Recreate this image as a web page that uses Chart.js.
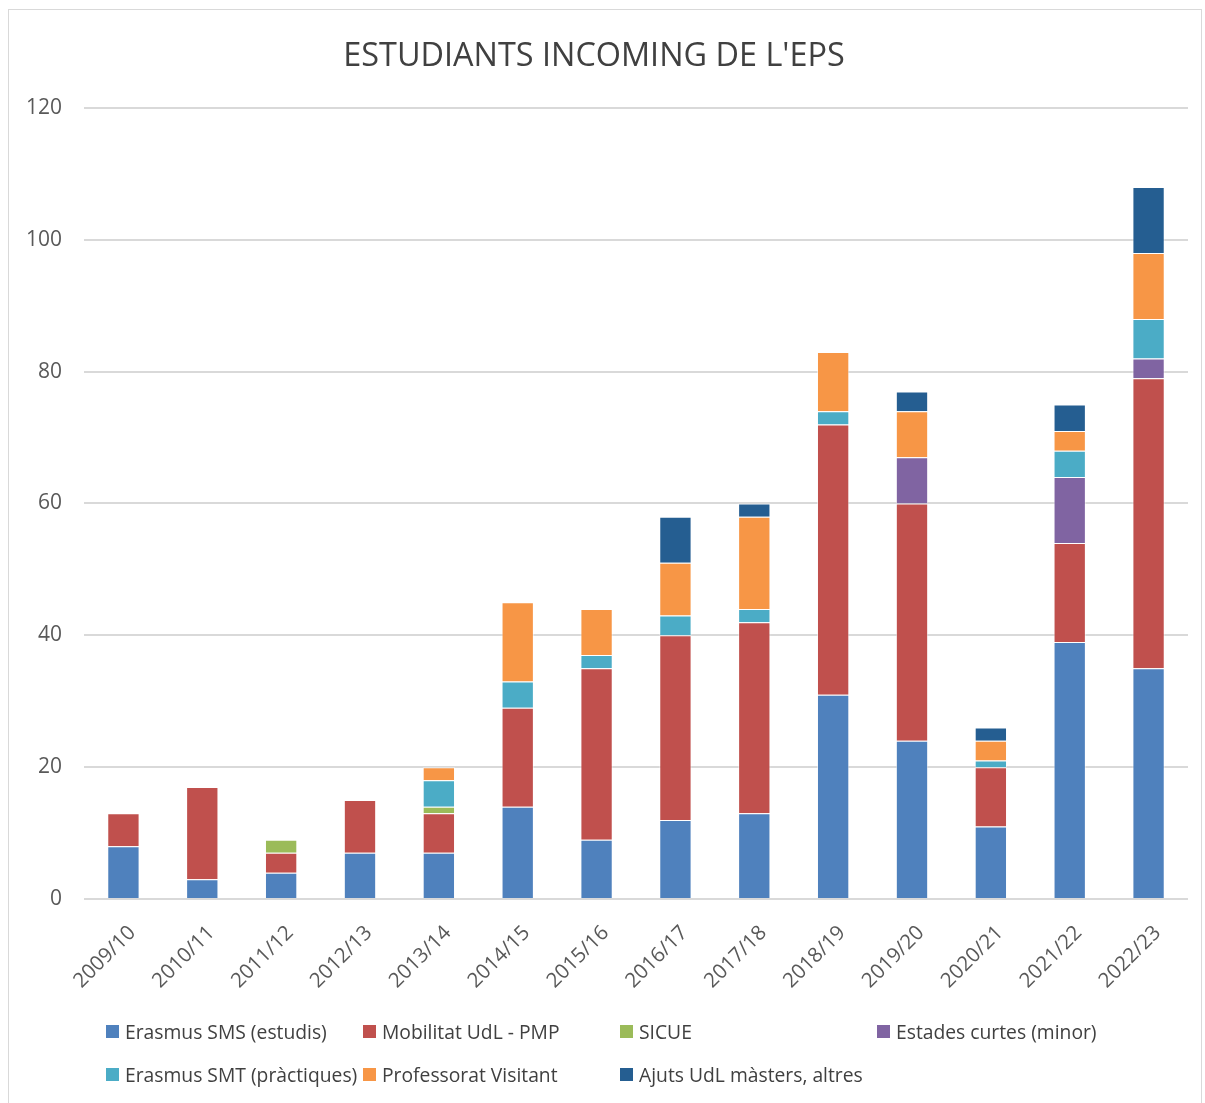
<!DOCTYPE html>
<html>
<head>
<meta charset="utf-8">
<script src="https://cdn.jsdelivr.net/npm/chart.js@4/dist/chart.umd.min.js"></script>
<style>
  html, body { margin: 0; padding: 0; background: #fff; }
  body { width: 1205px; height: 1103px; position: relative; overflow: hidden; font-family: "Open Sans", "Noto Sans", sans-serif; }
  #frame { position: absolute; left: 8px; top: 9px; width: 1194px; height: 1110px; border: 1px solid #d9d9d9; box-sizing: border-box; }
  #wrap { position: absolute; left: 0; top: 0; width: 1205px; height: 1103px; }
  #legend { position: absolute; left: 106px; top: 1018px; width: 1080px; display: grid; grid-template-columns: 257px 257px 257px 257px; row-gap: 16px; }
  .item { display: flex; align-items: center; font-size: 19.3px; color: #404040; white-space: nowrap; }
  .box { width: 13px; height: 13px; margin-right: 6px; flex: none; }
</style>
</head>
<body>
<div id="frame"></div>
<div id="wrap"><canvas id="chart" width="1205" height="1103"></canvas></div>
<div id="legend"></div>
<script>
// Incoming students per academic year, by programme
const years = ['2009/10', '2010/11', '2011/12', '2012/13', '2013/14', '2014/15', '2015/16',
  '2016/17', '2017/18', '2018/19', '2019/20', '2020/21', '2021/22', '2022/23'];

const erasmusSMS   = [8, 3, 4, 7, 7, 14, 9, 12, 13, 31, 24, 11, 39, 35];
const mobilitatPMP = [5, 14, 3, 8, 6, 15, 26, 28, 29, 41, 36, 9, 15, 44];
const sicue        = [0, 0, 2, 0, 1, 0, 0, 0, 0, 0, 0, 0, 0, 0];
const estades      = [0, 0, 0, 0, 0, 0, 0, 0, 0, 0, 7, 0, 10, 3];
const erasmusSMT   = [0, 0, 0, 0, 4, 4, 2, 3, 2, 2, 0, 1, 4, 6];
const professorat  = [0, 0, 0, 0, 2, 12, 7, 8, 14, 9, 7, 3, 3, 10];
const ajuts        = [0, 0, 0, 0, 0, 0, 0, 7, 2, 0, 3, 2, 4, 10];

const yTicks = [0, 20, 40, 60, 80, 100, 120];

const series = [
  { label: 'Erasmus SMS (estudis)', data: erasmusSMS, color: '#4f81bd' },
  { label: 'Mobilitat UdL - PMP', data: mobilitatPMP, color: '#c0504d' },
  { label: 'SICUE', data: sicue, color: '#9bbb59' },
  { label: 'Estades curtes (minor)', data: estades, color: '#8064a2' },
  { label: 'Erasmus SMT (pràctiques)', data: erasmusSMT, color: '#4bacc6' },
  { label: 'Professorat Visitant', data: professorat, color: '#f79646' },
  { label: 'Ajuts UdL màsters, altres', data: ajuts, color: '#255e91' }
];

const ctx = document.getElementById('chart');
const chart = new Chart(ctx, {
  type: 'bar',
  data: {
    labels: years,
    datasets: series.map(s => ({
      label: s.label,
      data: s.data,
      backgroundColor: s.color,
      borderColor: 'rgba(255,255,255,0.55)',
      borderWidth: 1,
      categoryPercentage: 1,
      barPercentage: 0.41
    }))
  },
  options: {
    responsive: false,
    animation: false,
    layout: { padding: { top: 20, right: 17, bottom: 104, left: 0 } },
    plugins: {
      legend: { display: false },
      tooltip: { enabled: false },
      title: {
        display: true,
        text: "ESTUDIANTS INCOMING DE L'EPS",
        color: '#404040',
        font: { family: '"Open Sans", "Noto Sans", sans-serif', size: 32.4, weight: 'normal' },
        padding: { top: 17, bottom: 32.1 }
      }
    },
    scales: {
      x: {
        stacked: true,
        afterFit: scale => { scale.height = 100; },
        grid: { display: false },
        border: { display: false },
        ticks: {
          color: '#595959',
          font: { family: '"Open Sans", "Noto Sans", sans-serif', size: 20.5 },
          maxRotation: 45,
          minRotation: 45,
          padding: 14,
          labelOffset: 9
        }
      },
      y: {
        stacked: true,
        min: 0,
        max: 120,
        afterFit: scale => { scale.width = 84; },
        afterBuildTicks: scale => { scale.ticks = yTicks.map(v => ({ value: v })); },
        grid: { color: '#d9d9d9', lineWidth: 2, drawTicks: false },
        border: { display: false },
        ticks: {
          color: '#595959',
          padding: 22,
          font: { family: '"Open Sans", "Noto Sans", sans-serif', size: 21 }
        }
      }
    }
  }
});

// legend laid out in columns like the original
const legendEl = document.getElementById('legend');
chart.data.datasets.forEach(ds => {
  const item = document.createElement('div');
  item.className = 'item';
  item.innerHTML = '<span class="box" style="background:' + ds.backgroundColor + '"></span>' + ds.label;
  legendEl.appendChild(item);
});
</script>
</body>
</html>
